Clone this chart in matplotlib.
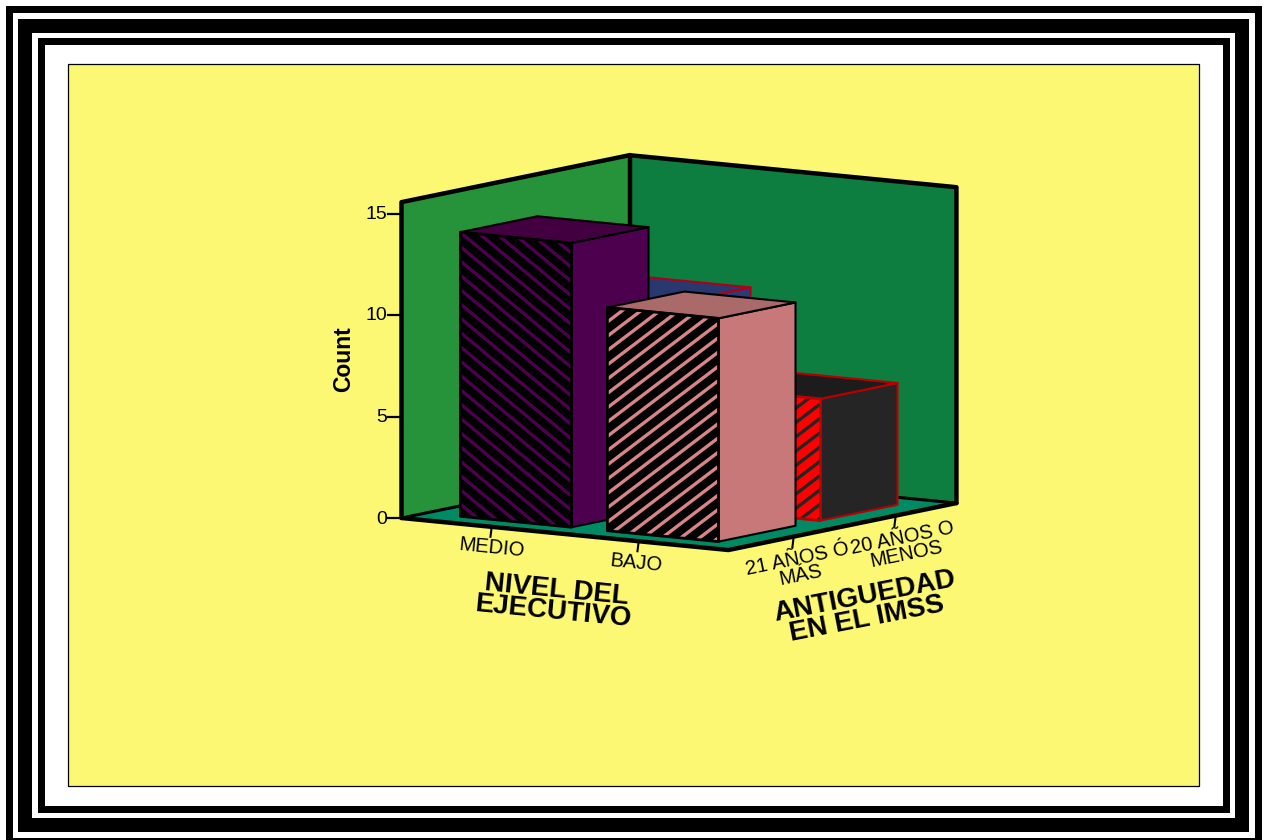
import matplotlib
matplotlib.use('Agg')
import matplotlib.pyplot as plt
from matplotlib.patches import Polygon, Rectangle
import numpy as np

plt.rcParams['font.family'] = ['Liberation Sans', 'DejaVu Sans']

# counts per category: one list for each antiguedad group, ordered by nivel
nivel_labels = ['MEDIO', 'BAJO']
antiguedad_labels = ['21 AÑOS Ó\nMÁS', '20 AÑOS O\nMENOS']
counts_21 = [14, 11]
counts_20 = [10, 6]
y_ticks = [0, 5, 10, 15]

# projection of the box onto the page, in pixels
W, H = 1267, 840
ORIGIN = np.array([401.5, 518.0])
EX = np.array([147.0, 14.4])
EY = np.array([102.0, -21.0])
UNIT_Z = 20.3
X_MIN, X_MAX = -0.612, 1.612
Y_MIN, Y_MAX = -0.6175, 1.618
Z_TOP = 15.56
HALF_X, HALF_Y = 0.378, 0.3775


def proj(x, y, z=0.0):
    p = ORIGIN + (x - X_MIN) * EX + (y - Y_MIN) * EY
    return (p[0], p[1] - z * UNIT_Z)


fig = plt.figure(figsize=(W / 100, H / 100), dpi=100, facecolor='white')
ax = fig.add_axes([0, 0, 1, 1])
ax.set_xlim(0, W)
ax.set_ylim(H, 0)
ax.axis('off')

# nested page border
for x0, y0, x1, y1, col in [(6, 6, 1262, 845, 'black'), (13, 13, 1255, 838, 'white'),
                            (18, 19, 1249, 832, 'black'), (32, 33, 1235, 818, 'white'),
                            (38, 38, 1230, 813, 'black'), (45, 45, 1223, 806, 'white')]:
    ax.add_patch(Rectangle((x0, y0), x1 - x0, y1 - y0, fc=col, ec='none', zorder=1))
ax.add_patch(Rectangle((68, 64), 1131, 722, fc='#fcf873', ec='black', lw=0.9, zorder=2))

# walls and floor
a, b = proj(X_MIN, Y_MIN), proj(X_MAX, Y_MIN)
c, d = proj(X_MAX, Y_MAX), proj(X_MIN, Y_MAX)
a2, c2, d2 = proj(X_MIN, Y_MIN, Z_TOP), proj(X_MAX, Y_MAX, Z_TOP), proj(X_MIN, Y_MAX, Z_TOP)
ax.add_patch(Polygon([a, d, d2, a2], fc='#26933a', ec='none', zorder=3))
ax.add_patch(Polygon([d, c, c2, d2], fc='#0e7d40', ec='none', zorder=3))
ax.add_patch(Polygon([a, b, c, d], fc='#008a63', ec='none', zorder=3))
for seg, lw in (([a, a2, d2, c2, c], 3.2), ([d, d2], 3.2), ([a, d, c], 2.2), ([a, b, c], 3.2)):
    xs, ys = zip(*seg)
    ax.plot(xs, ys, color='black', lw=lw, solid_joinstyle='round', solid_capstyle='round', zorder=4)

# value axis ticks
for v in y_ticks:
    px, py = proj(X_MIN, Y_MIN, v)
    ax.plot([px - 14, px], [py, py], color='black', lw=1.6, zorder=4)
    ax.text(px - 14, py + 1, str(v), ha='right', va='center', fontsize=14, color='black', zorder=9)

# category ticks and labels on the two floor edges
for i, lab in enumerate(nivel_labels):
    px, py = proj(i, Y_MIN)
    ax.plot([px, px - 1], [py + 2, py + 10], color='black', lw=1.5, zorder=4)
    ax.text(px + 0.5 - 3 * i, py + 21 + i, lab, rotation=-5.6, rotation_mode='anchor', ha='center',
            va='center', fontsize=14.5, color='black', zorder=9)
for i, lab in enumerate(antiguedad_labels):
    px, py = proj(X_MAX, i)
    ax.plot([px + 2, px + 1], [py + 2, py + 10], color='black', lw=1.5, zorder=4)
    ax.text(px + 8 + 3 * i, py + 30, lab, rotation=11.6, rotation_mode='anchor', ha='center', va='center',
            fontsize=14.5, linespacing=0.78, color='black', zorder=9)


def draw_bar(i, j, val, front, stripe, side, top, edge, slope, zo):
    x0, x1 = i - HALF_X, i + HALF_X
    y0, y1 = j - HALF_Y, j + HALF_Y
    front_pts = [proj(x0, y0), proj(x1, y0), proj(x1, y0, val), proj(x0, y0, val)]
    side_pts = [proj(x1, y0), proj(x1, y1), proj(x1, y1, val), proj(x1, y0, val)]
    top_pts = [proj(x0, y0, val), proj(x1, y0, val), proj(x1, y1, val), proj(x0, y1, val)]
    ax.add_patch(Polygon(side_pts, fc=side, ec=edge, lw=1.5, zorder=zo, joinstyle='round'))
    ax.add_patch(Polygon(top_pts, fc=top, ec=edge, lw=1.5, zorder=zo, joinstyle='round'))
    face = Polygon(front_pts, fc=front, ec='none', zorder=zo)
    ax.add_patch(face)

    # diagonal stripes clipped to the front face
    xs = [p[0] for p in front_pts]
    ys = [p[1] for p in front_pts]
    left, right = min(xs), max(xs)
    for y_start in np.arange(min(ys) - 200, max(ys) + 200, 14.3):
        ln, = ax.plot([left, right], [y_start, y_start + slope * (right - left)],
                      color=stripe, lw=2.4, zorder=zo, solid_capstyle='butt')
        ln.set_clip_path(face)
    ax.add_patch(Polygon(front_pts, fc='none', ec=edge, lw=2.0, zorder=zo, joinstyle='round'))


# back row first, front row over it
draw_bar(0, 1, counts_20[0], '#2c3a78', '#1e1e1e', '#2c3a78', '#2a3870', '#b00018', -0.76, 5)
draw_bar(1, 1, counts_20[1], '#ff0000', '#252525', '#252525', '#1c1c1c', '#b80000', -0.76, 6)
draw_bar(0, 0, counts_21[0], 'black', '#4d004e', '#4d004e', '#430040', 'black', 0.83, 7)
draw_bar(1, 0, counts_21[1], 'black', '#d98585', '#c87878', '#ab6a6a', 'black', -0.76, 8)

# axis titles, one text per line so each can sit on its own centre
for txt, tx, ty, rot in [('NIVEL DEL', 557, 590, -5.6), ('EJECUTIVO', 553, 612, -5.6),
                         ('ANTIGUEDAD', 865, 597, 11), ('EN EL IMSS', 867, 619, 11)]:
    ax.text(tx, ty, txt, rotation=rot, rotation_mode='anchor', ha='center', va='center',
            fontsize=20, fontweight='bold', color='black', zorder=9)
ax.text(344, 359, 'Count', rotation=90, ha='center', va='center', fontsize=16.5,
        fontweight='bold', color='black', zorder=9)

fig.savefig('out.png', dpi=100)
